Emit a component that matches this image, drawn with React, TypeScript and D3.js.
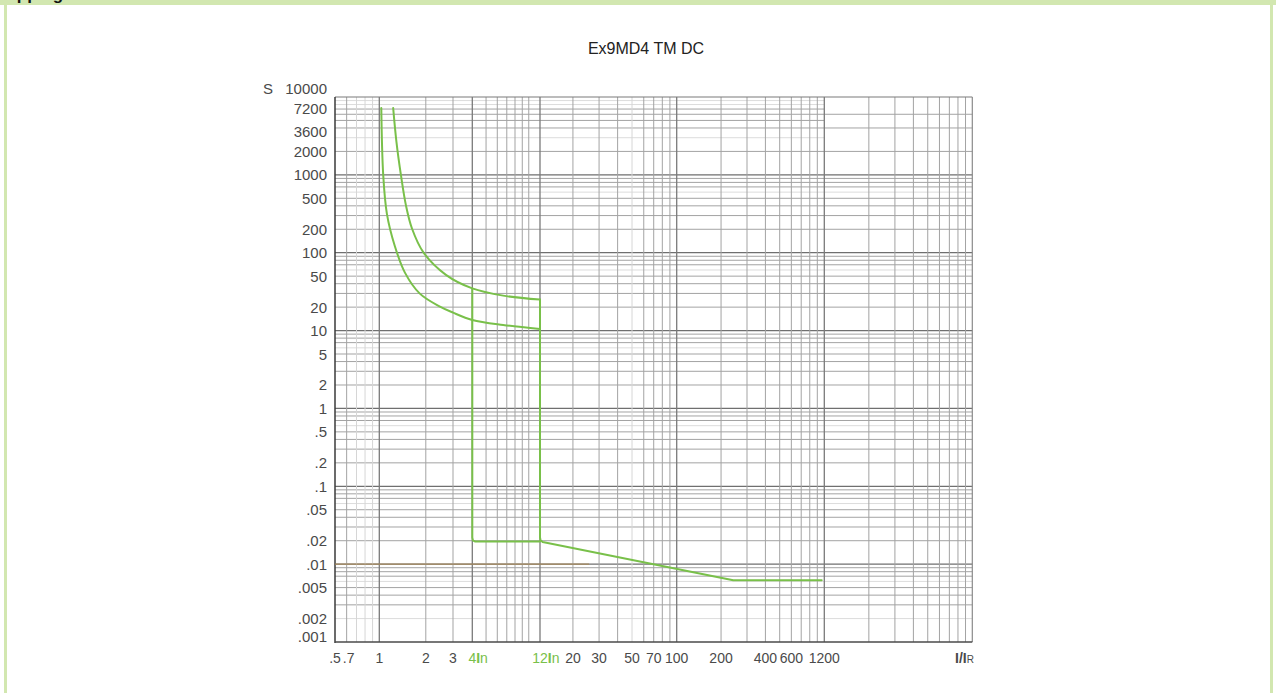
import React from "react";
import * as d3 from "d3";

// ---------- data ----------
const chartTitle = "Ex9MD4 TM DC";
const pageHeading = "Tripping curves";

const yTickValues = [10000, 7200, 3600, 2000, 1000, 500, 200, 100, 50, 20, 10, 5, 2, 1, 0.5, 0.2, 0.1, 0.05, 0.02, 0.01, 0.005, 0.002, 0.001];
const yTickLabels = ["10000", "7200", "3600", "2000", "1000", "500", "200", "100", "50", "20", "10", "5", "2", "1", ".5", ".2", ".1", ".05", ".02", ".01", ".005", ".002", ".001"];

const xTickValues = [0.5, 0.7, 1, 2, 3, 20, 30, 50, 70, 100, 200, 400, 600, 1200];
const xTickLabels = [".5", ".7", "1", "2", "3", "20", "30", "50", "70", "100", "200", "400", "600", "1200"];
const ratedValues = [4, 12];
const ratedLabels = ["4", "12"];

// axis breakpoints of the (piecewise logarithmic) current axis
const xBreaks = [0.5, 1, 4, 12, 100, 900, 1200, 12000];
const xMajorGrid = [1, 4, 12, 100, 1200];
const xMinorGrid = [0.6, 0.7, 0.8, 0.9, 2, 3, 5, 6, 7, 8, 9, 10, 20, 30, 40, 50, 60, 70, 80, 90, 200, 300, 400, 500, 600, 700, 800, 900, 2400, 3600, 4800, 6000, 7200, 8400, 9600, 10800];
const xLightGrid = [0.7, 0.8, 0.9, 50];
const yLightGrid = [0.002, 0.006, 0.06, 0.6, 6, 60, 600, 3000, 8000, 9000];
const yTopRightGrid = [2000, 4000, 6000];

// thermal release curves (multiple of rated current, seconds)
const lowerCurveI = [1.03, 1.06, 1.12, 1.26, 1.465, 1.83, 2.47, 3.0, 4, 6.6, 12];
const lowerCurveS = [7200, 1000, 316, 122, 55.5, 29.8, 20.3, 17, 13.7, 11.8, 10.5];
const upperCurveI = [1.23, 1.29, 1.38, 1.49, 1.63, 1.93, 2.7, 4, 6.6, 12];
const upperCurveS = [7200, 2700, 1000, 400, 203, 101, 52, 34.8, 28.1, 25];

// magnetic release
const mag4I = [4, 4, 4.04, 4.2, 12];
const mag4S = [34.8, 0.022, 0.0202, 0.0195, 0.0195];
const mag12I = [12, 12, 12.1, 12.5, 242, 1078];
const mag12S = [25, 0.022, 0.0203, 0.0193, 0.0062, 0.0062];

// reference line at 10 ms
const refLineI = [0.5, 25.7];
const refLineS = [0.01, 0.01];

// ---------- layout ----------
const W = 1276;
const H = 693;
const PL = 335;
const PR = 972.3;
const PT = 97;
const PB = 642;
const xBreakPx = [335, 379.3, 472.3, 540, 676.7, 817.3, 824.3, 972.3];

const GREEN = "#79c04a";
const FRAME = "#d2e7b0";
const LABEL = "#4a4a4a";

export default function App() {
  const x = d3.scaleLog().domain(xBreaks).range(xBreakPx);
  const y = d3.scaleLog().domain([0.001, 10000]).range([PB, PT]);

  const line = d3
    .line<[number, number]>()
    .x((d) => x(d[0]))
    .y((d) => y(d[1]));
  const smooth = d3
    .line<[number, number]>()
    .x((d) => x(d[0]))
    .y((d) => y(d[1]))
    .curve(d3.curveCatmullRom.alpha(0.5));

  const zip = (a: number[], b: number[]) => a.map((v, i) => [v, b[i]] as [number, number]);

  // horizontal grid values
  const yGrid: { v: number; major: boolean }[] = [];
  for (let e = -3; e <= 3; e++) {
    for (let k = 1; k <= 9; k++) {
      const v = +(k * Math.pow(10, e)).toPrecision(6);
      if (e === -3 && k === 1) continue;
      yGrid.push({ v, major: k === 1 });
    }
  }
  const near = (a: number, list: number[]) => list.some((b) => Math.abs(a - b) / b < 1e-6);

  const font = "'Liberation Sans', Arial, Helvetica, sans-serif";

  const yLabelPos = (v: number) => {
    const p = y(v);
    if (p <= PT + 1) return p - 9; // top label sits above the frame
    return Math.min(p, PB - 6);
  };

  return (
    <svg width={W} height={H} style={{ position: "absolute", left: 0, top: 0, background: "#fff" }} fontFamily={font}>
      {/* page frame */}
      <rect x={0} y={0} width={W} height={5} fill={FRAME} />
      <rect x={4} y={0} width={3} height={H} fill={FRAME} />
      <rect x={1270} y={0} width={3} height={H} fill={FRAME} />
      <text x={-4} y={0} fontSize={17} fontWeight={700} fill="#111">
        {pageHeading}
      </text>

      <text x={646} y={54} fontSize={16} textAnchor="middle" fill="#222">
        {chartTitle}
      </text>

      {/* horizontal grid */}
      {yGrid.map((g, i) => {
        const light = near(g.v, yLightGrid);
        const topDecade = g.v > 1000 && g.v < 10000;
        const x1 = topDecade && !near(g.v, yTopRightGrid) ? x(1200) : PR;
        return (
          <line
            key={"h" + i}
            x1={PL}
            x2={x1}
            y1={y(g.v)}
            y2={y(g.v)}
            stroke={g.major ? "#6f6f6f" : light ? "#dcdcdc" : "#a3a3a3"}
            strokeWidth={g.major ? 1.3 : 1}
          />
        );
      })}

      {/* vertical grid */}
      {xMinorGrid.map((v, i) => (
        <line
          key={"vm" + i}
          x1={x(v)}
          x2={x(v)}
          y1={PT}
          y2={PB}
          stroke={near(v, xLightGrid) ? "#d6d6d6" : "#a3a3a3"}
          strokeWidth={1}
        />
      ))}
      {xMajorGrid.map((v, i) => (
        <line key={"vM" + i} x1={x(v)} x2={x(v)} y1={PT} y2={PB} stroke="#7a7a7a" strokeWidth={1.3} />
      ))}

      {/* frame of plot */}
      <line x1={PL} x2={PR} y1={PT} y2={PT} stroke="#7a7a7a" strokeWidth={1.2} />
      <line x1={PR} x2={PR} y1={PT} y2={PB} stroke="#8a8a8a" strokeWidth={1.2} />
      <line x1={PL} x2={PL} y1={PT} y2={PB + 1} stroke="#3a3a3a" strokeWidth={1.5} />
      <line x1={PL} x2={PR} y1={PB} y2={PB} stroke="#4a4a4a" strokeWidth={1.5} />

      {/* 10 ms reference line */}
      <path d={line(zip(refLineI, refLineS)) || ""} fill="none" stroke="#a68a5e" strokeWidth={1.2} />

      {/* curves */}
      <g fill="none" stroke={GREEN} strokeWidth={2} strokeLinejoin="round" strokeLinecap="round">
        <path d={smooth(zip(lowerCurveI, lowerCurveS)) || ""} />
        <path d={smooth(zip(upperCurveI, upperCurveS)) || ""} />
        <path d={line(zip(mag4I, mag4S)) || ""} />
        <path d={line(zip(mag12I, mag12S)) || ""} />
      </g>

      {/* y labels */}
      <text x={263} y={88} fontSize={15} fill={LABEL} dominantBaseline="central">
        S
      </text>
      {yTickValues.map((v, i) => (
        <text
          key={"yl" + i}
          x={327}
          y={yLabelPos(v)}
          fontSize={15}
          textAnchor="end"
          dominantBaseline="central"
          fill={LABEL}
        >
          {yTickLabels[i]}
        </text>
      ))}

      {/* x labels */}
      {xTickValues.map((v, i) => (
        <text
          key={"xl" + i}
          x={v === 0.7 ? x(v) - 2 : x(v)}
          y={663}
          fontSize={14}
          textAnchor={v === 0.7 ? "end" : "middle"}
          fill={LABEL}
        >
          {xTickLabels[i]}
        </text>
      ))}
      {ratedValues.map((v, i) => {
        const w = ratedLabels[i].length * 7.8;
        return (
          <text key={"rl" + i} x={x(v) - w / 2} y={663} fontSize={14} fill={GREEN}>
            {ratedLabels[i]}
            <tspan fontWeight={700}>I</tspan>
            <tspan>n</tspan>
          </text>
        );
      })}
      <text x={955} y={663} fontSize={14} fill={LABEL}>
        <tspan fontWeight={700}>I/I</tspan>
        <tspan fontSize={10}>R</tspan>
      </text>
    </svg>
  );
}
